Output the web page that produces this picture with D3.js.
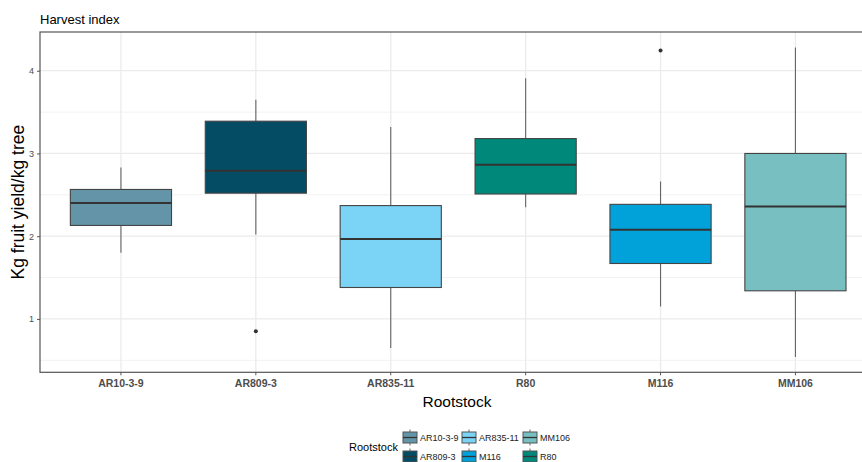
<!DOCTYPE html>
<html><head><meta charset="utf-8">
<script src="https://cdn.jsdelivr.net/npm/d3@7"></script>
<style>
html,body{margin:0;padding:0;background:#fff;overflow:hidden;}
svg{display:block;font-family:"Liberation Sans",Arial,sans-serif;}
</style></head>
<body>
<script>
const categories = ["AR10-3-9","AR809-3","AR835-11","R80","M116","MM106"];
const lowerWhisker = [1.80, 2.02, 0.65, 2.35, 1.15, 0.54];
const q1          = [2.13, 2.52, 1.38, 2.51, 1.67, 1.34];
const median      = [2.40, 2.79, 1.965, 2.865, 2.078, 2.36];
const q3          = [2.565, 3.39, 2.37, 3.18, 2.385, 3.00];
const upperWhisker= [2.83, 3.65, 3.32, 3.91, 2.66, 4.28];
const outliers    = [[], [0.85], [], [], [4.245], []];
const colors      = ["#6494A7","#044C63","#7BD3F6","#00897B","#00A2D9","#77BFC1"];
const legendOrder = ["AR10-3-9","AR809-3","AR835-11","M116","MM106","R80"];
const yTicks = [1,2,3,4];
const yMinor = [0.5,1.5,2.5,3.5];

const W=862,H=462;
const svg=d3.select("body").append("svg").attr("width",W).attr("height",H);
const L=40,T=32,B=372.3;
const step=134.9;
const R=L+step*6.2;
const x=d3.scaleBand().domain(categories).range([L+0.6*step-step/2,R-0.6*step+step/2]).paddingInner(0).paddingOuter(0);
const y=d3.scaleLinear().domain([0.355,4.468]).range([B,T]);
const color=d3.scaleOrdinal().domain(categories).range(colors);

const clip=svg.append("defs").append("clipPath").attr("id","pc").append("rect")
  .attr("x",L).attr("y",T).attr("width",R-L).attr("height",B-T);
const panel=svg.append("g").attr("clip-path","url(#pc)");

// grid
panel.selectAll(".ymin").data(yMinor).join("line")
  .attr("x1",L).attr("x2",R).attr("y1",d=>y(d)).attr("y2",d=>y(d))
  .attr("stroke","#F2F2F2").attr("stroke-width",1);
panel.selectAll(".ymaj").data(yTicks).join("line")
  .attr("x1",L).attr("x2",R).attr("y1",d=>y(d)).attr("y2",d=>y(d))
  .attr("stroke","#EBEBEB").attr("stroke-width",1.3);
panel.selectAll(".xmaj").data(categories).join("line")
  .attr("x1",d=>x(d)+x.bandwidth()/2).attr("x2",d=>x(d)+x.bandwidth()/2).attr("y1",T).attr("y2",B)
  .attr("stroke","#EBEBEB").attr("stroke-width",1.3);

const bw=step*0.75;
const g=panel.selectAll(".box").data(categories).join("g");
g.each(function(c,i){
  const s=d3.select(this);
  const cx=x(c)+x.bandwidth()/2;
  s.append("line").attr("x1",cx).attr("x2",cx).attr("y1",y(upperWhisker[i])).attr("y2",y(q3[i])).attr("stroke","#666").attr("stroke-width",1.1);
  s.append("line").attr("x1",cx).attr("x2",cx).attr("y1",y(q1[i])).attr("y2",y(lowerWhisker[i])).attr("stroke","#666").attr("stroke-width",1.1);
  s.append("rect").attr("x",cx-bw/2).attr("width",bw).attr("y",y(q3[i])).attr("height",y(q1[i])-y(q3[i]))
    .attr("fill",color(c)).attr("stroke","#444").attr("stroke-width",1.1);
  s.append("line").attr("x1",cx-bw/2).attr("x2",cx+bw/2).attr("y1",y(median[i])).attr("y2",y(median[i])).attr("stroke","#333").attr("stroke-width",2);
  s.selectAll("circle").data(outliers[i]).join("circle").attr("cx",cx).attr("cy",d=>y(d)).attr("r",2).attr("fill","#333");
});

// border
svg.append("rect").attr("x",L).attr("y",T).attr("width",R-L).attr("height",B-T)
  .attr("fill","none").attr("stroke","#555").attr("stroke-width",1.2);

// axes
const ya=svg.append("g").attr("transform",`translate(${L},0)`)
  .call(d3.axisLeft(y).tickValues(yTicks).tickSize(3).tickPadding(3).tickFormat(d3.format("d")));
ya.select(".domain").remove();
ya.selectAll("line").attr("stroke","#555");
ya.selectAll("text").attr("fill","#4D4D4D").style("font-size","9px").style("font-family","Liberation Sans, Arial, sans-serif");

const xa=svg.append("g").attr("transform",`translate(0,${B})`)
  .call(d3.axisBottom(x).tickSize(3).tickPadding(4));
xa.select(".domain").remove();
xa.selectAll("line").attr("stroke","#555");
xa.selectAll("text").attr("fill","#4D4D4D").style("font-size","10.5px").style("font-weight","bold").style("font-family","Liberation Sans, Arial, sans-serif");

// titles
svg.append("text").attr("x",40).attr("y",24).text("Harvest index").attr("font-size","13px").attr("fill","#000");
svg.append("text").attr("transform",`translate(24,${(T+B)/2}) rotate(-90)`).attr("text-anchor","middle")
  .text("Kg fruit yield/kg tree").attr("font-size","17.5px").attr("fill","#000");
svg.append("text").attr("x",457).attr("y",407).attr("text-anchor","middle").text("Rootstock").attr("font-size","15.5px").attr("fill","#000");

// legend
svg.append("text").attr("x",349).attr("y",451).text("Rootstock").attr("font-size","11px").attr("fill","#000");
const colX=[403,462,523], rowY=[437.5,456.5];
legendOrder.forEach((c,k)=>{
  const col=Math.floor(k/2), row=k%2;
  const kx=colX[col], cy=rowY[row];
  const lg=svg.append("g");
  lg.append("line").attr("x1",kx+7).attr("x2",kx+7).attr("y1",cy-8).attr("y2",cy+8).attr("stroke","#666");
  lg.append("rect").attr("x",kx).attr("y",cy-5.5).attr("width",14).attr("height",11).attr("fill",color(c)).attr("stroke","#555").attr("stroke-width",1);
  lg.append("line").attr("x1",kx).attr("x2",kx+14).attr("y1",cy).attr("y2",cy).attr("stroke","#333").attr("stroke-width",1.3);
  lg.append("text").attr("x",kx+17).attr("y",cy+3.3).text(c).attr("font-size","9px").attr("fill","#222");
});
</script>
</body></html>
